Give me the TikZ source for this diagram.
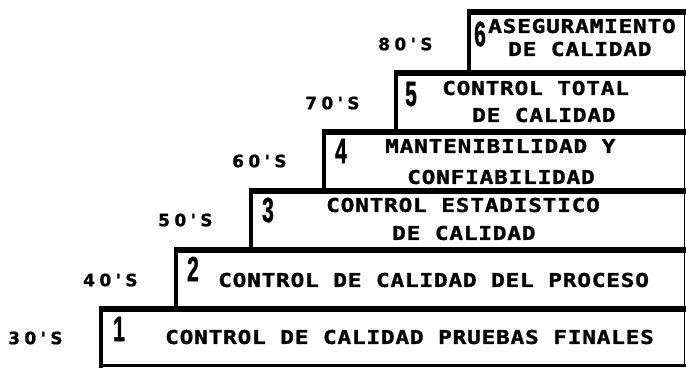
\documentclass[tikz,border=0pt]{standalone}
\usepackage{fontspec}
\newfontfamily\stepfont[LetterSpace=4, FakeStretch=1.2, FakeBold=1.5]{DejaVu Sans Mono}
\newfontfamily\decadefont[LetterSpace=26, FakeBold=1]{DejaVu Sans}
\newfontfamily\digitfont[FakeBold=1.5]{Liberation Sans}

\begin{document}
\begin{tikzpicture}[x=1pt, y=-1pt,
        toprule/.style={line width=6pt},
        siderule/.style={line width=4.5pt},
        edgerule/.style={line width=0.8pt},
        decade/.style={anchor=west, inner sep=0pt, font=\decadefont\bfseries\fontsize{17}{19}\selectfont},
        stepnum/.style={inner sep=0pt, xscale=0.6, font=\digitfont\bfseries\fontsize{35}{37}\selectfont},
        steptext/.style={anchor=west, inner sep=0pt, font=\stepfont\bfseries\fontsize{19}{21}\selectfont}]
        \useasboundingbox (0, 0) rectangle (686, 368);

        % steps, bottom to top
        \draw[siderule] (101, 368) -- (101, 309);
        \draw[toprule] (98.75, 309) -- (686, 309);
        \draw[siderule] (176, 309) -- (176, 250);
        \draw[toprule] (173.75, 250) -- (686, 250);
        \draw[siderule] (251, 250) -- (251, 191);
        \draw[toprule] (248.75, 191) -- (686, 191);
        \draw[siderule] (324, 191) -- (324, 132);
        \draw[toprule] (321.75, 132) -- (686, 132);
        \draw[siderule] (396, 132) -- (396, 73);
        \draw[toprule] (393.75, 73) -- (686, 73);
        \draw[siderule] (469, 73) -- (469, 11.5);
        \draw[toprule] (466.75, 11.5) -- (686, 11.5);
        \draw[edgerule] (684, 11.5) -- (684, 365);
        \draw[line width=3pt] (99, 365.5) -- (686, 365.5);

        % decades
        \node[decade] (d30) at (8, 338) {30'S};
        \node[decade] (d40) at (83, 280) {40'S};
        \node[decade] (d50) at (158, 220) {50'S};
        \node[decade] (d60) at (232, 161) {60'S};
        \node[decade] (d70) at (305, 103) {70'S};
        \node[decade] (d80) at (378, 44) {80'S};

        % step numbers
        \node[stepnum] (n1) at (119, 329) {1};
        \node[stepnum] (n2) at (193, 269) {2};
        \node[stepnum] (n3) at (268, 210) {3};
        \node[stepnum] (n4) at (341, 151) {4};
        \node[stepnum] (n5) at (411, 94) {5};
        \node[stepnum] (n6) at (480, 34) {6};

        % step texts
        \node[steptext] (t1) at (165, 337) {CONTROL DE CALIDAD PRUEBAS FINALES};
        \node[steptext] (t2) at (218, 280) {CONTROL DE CALIDAD DEL PROCESO};
        \node[steptext] (t3a) at (326, 205) {CONTROL ESTADISTICO};
        \node[steptext] (t3b) at (392, 233) {DE CALIDAD};
        \node[steptext] (t4a) at (385, 146) {MANTENIBILIDAD Y};
        \node[steptext] (t4b) at (407, 177) {CONFIABILIDAD};
        \node[steptext] (t5a) at (442, 88) {CONTROL TOTAL};
        \node[steptext] (t5b) at (472, 115) {DE CALIDAD};
        \node[steptext] (t6a) at (488, 26) {ASEGURAMIENTO};
        \node[steptext] (t6b) at (508, 49) {DE CALIDAD};
\end{tikzpicture}
\end{document}
